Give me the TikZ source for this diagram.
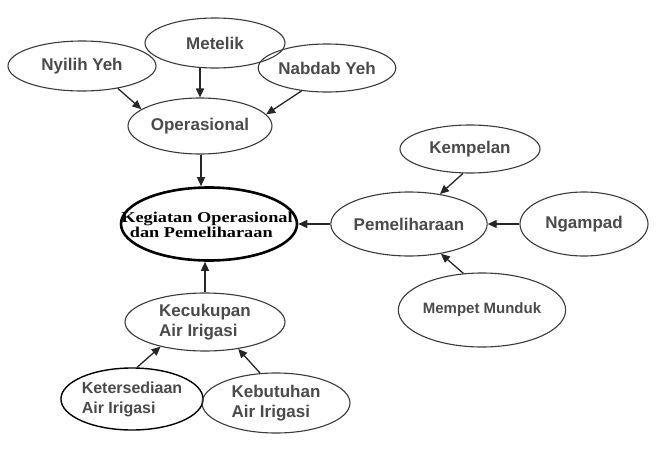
\documentclass[tikz,border=0pt]{standalone}
\usepackage{fontspec}
\usepackage{graphicx}
\setmainfont{Liberation Sans}
\newfontfamily\serifbold{Liberation Serif}
\usetikzlibrary{shapes.geometric,arrows.meta}
\definecolor{txt}{HTML}{4A4A4A}
\definecolor{edge}{HTML}{3A3A3A}
\tikzset{
  ell/.style={ellipse, draw=edge, line width=1.1pt, inner sep=0pt, text=txt,
    font=\fontsize{17}{20}\selectfont\bfseries, align=left},
  arr/.style={draw=black!85, line width=1.3pt, -{Triangle[length=9pt,width=8pt]}},
}
\begin{document}
\begin{tikzpicture}[x=1pt,y=-1pt]
\useasboundingbox (0,0) rectangle (667,458);
\node[ell, minimum width=148pt, minimum height=50pt] (nyilih) at (82,66) {Nyilih Yeh};
\node[ell, minimum width=140pt, minimum height=50pt] (metelik) at (215,43) {Metelik};
\node[ell, minimum width=124pt, minimum height=48pt] (nabdab) at (327,68) {Nabdab Yeh};
\node[ell, minimum width=144pt, minimum height=56pt] (oper) at (200,126) {Operasional};
\node[ellipse, draw=black, line width=2.6pt, inner sep=0pt, minimum width=176pt, minimum height=73pt,
  label={[text=black, inner sep=0pt, yshift=-3pt, xshift=-2pt]center:{\scalebox{1.22}[1]{\fontsize{15}{16}\selectfont\serifbold\bfseries\begin{tabular}{@{}l@{}}Kegiatan Operasional\\[-1pt]\hspace{7pt}dan Pemeliharaan\end{tabular}}}}] (keg) at (209,224) {};
\node[ell, minimum width=146pt, minimum height=64pt] (pem) at (409,224) {Pemeliharaan};
\node[ell, minimum width=140pt, minimum height=48pt] (kemp) at (470,149) {Kempelan};
\node[ell, minimum width=128pt, minimum height=64pt] (ngam) at (584,224) {Ngampad};
\node[ell, minimum width=140pt, minimum height=74pt, font=\fontsize{15}{18}\selectfont\bfseries] (mem) at (482,310) {Mempet Munduk};
\node[ell, minimum width=160pt, minimum height=58pt] (kec) at (205,322) {Kecukupan\\Air Irigasi};
\node[ell, draw=black, line width=1.4pt, minimum width=140pt, minimum height=62pt, font=\fontsize{16}{20}\selectfont\bfseries] (ket) at (132,399) {Ketersediaan\\Air Irigasi};
\node[ell, minimum width=148pt, minimum height=60pt] (keb) at (276,403) {Kebutuhan\\Air Irigasi};
% connectors
\draw[arr] (nyilih.-32) -- (oper.164);
\draw[arr] (metelik.-121) -- (metelik.-121 |- oper.north);
\draw[arr] (nabdab.-138) -- (oper.10);
\draw[arr] (oper.-88) -- (oper.-88 |- keg.north);
\draw[arr] (kec.north) -- (kec.north |- keg.south);
\draw[arr] (pem.west) -- (keg.east);
\draw[arr] (kemp.-106) -- (pem.44);
\draw[arr] (ngam.west) -- (pem.east);
\draw[arr] (mem.117) -- (pem.-43);
\draw[arr] (ket.81) -- (kec.-151);
\draw[arr] (keb.118) -- (kec.-39);
\end{tikzpicture}
\end{document}
